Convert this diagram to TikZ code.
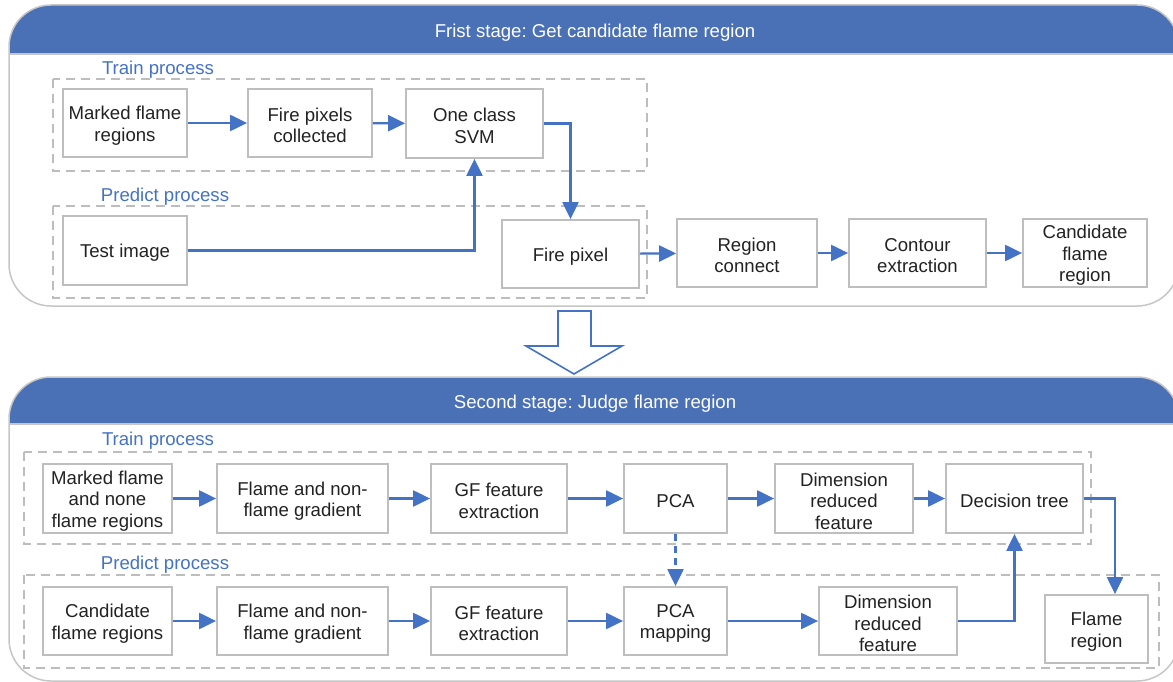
\documentclass[tikz,border=0pt]{standalone}
\usepackage{fontspec}
\setmainfont{Liberation Sans}
\frenchspacing
\usetikzlibrary{arrows.meta}

\definecolor{headblue}{HTML}{4A70B6}
\definecolor{flowblue}{HTML}{4472C4}
\definecolor{panelgray}{HTML}{C6C6C6}
\definecolor{boxgray}{HTML}{BEBEBE}
\definecolor{dashgray}{HTML}{BDBDBD}
\definecolor{inktext}{HTML}{222222}

\tikzset{
  stagepanel/.style={draw=panelgray, line width=1.5pt, rounded corners=42pt},
  stagehead/.style={fill=headblue},
  stagetitle/.style={text=white, font=\fontsize{18.6}{22}\selectfont},
  % box frame; its caption is a centred label set slightly low
  stepbox/.style={draw=boxgray, line width=1.8pt, fill=white, inner sep=0pt},
  steptext/.style={align=center, inner sep=0pt, yshift=-2.5pt, text=inktext,
    font=\fontsize{18.6}{21.5}\selectfont},
  groupframe/.style={draw=dashgray, line width=1.3pt, dash pattern=on 9pt off 6pt},
  grouplabel/.style={text=flowblue, font=\fontsize{18.6}{22}\selectfont},
  flow/.style={draw=flowblue, line width=2.2pt,
    -{Triangle[length=17pt,width=16pt]}},
  bigarrow/.style={draw=flowblue, line width=1.6pt, fill=white, line join=miter},
}

\begin{document}
\begin{tikzpicture}[x=1pt,y=-1pt]
\useasboundingbox (0,0) rectangle (1173,682);
\clip (0,0) rectangle (1173,682);

% ---------- First stage panel ----------
\begin{scope}
  \clip[rounded corners=42pt] (9,5) rectangle (1179,306);
  \fill[stagehead] (9,5) rectangle (1179,54);
\end{scope}
\draw[stagepanel] (9,5) rectangle (1179,306);
\draw[draw=panelgray, line width=1.2pt] (9,54) -- (1179,54);
\node[stagetitle] (title1) at (595,32.5) {Frist stage: Get candidate flame region};

\draw[groupframe] (53,79) rectangle (647,171);
\draw[groupframe] (53,206) rectangle (647,298);
\node[grouplabel] (train1) at (158,69.5) {Train process};
\node[grouplabel] (pred1) at (165,196.5) {Predict process};

\node[stepbox, minimum width=124pt, minimum height=68pt,
  label={[steptext]center:{Marked flame\\regions}}] (m1) at (125,123) {};
\node[stepbox, minimum width=124pt, minimum height=68pt,
  label={[steptext]center:{Fire pixels\\collected}}] (f1) at (310,123) {};
\node[stepbox, minimum width=137pt, minimum height=69pt,
  label={[steptext]center:{One class\\SVM}}] (s1) at (474.5,123.5) {};
\node[stepbox, minimum width=124pt, minimum height=69pt,
  label={[steptext]center:{Test image}}] (t1) at (125,250.5) {};
\node[stepbox, minimum width=137pt, minimum height=68pt,
  label={[steptext]center:{Fire pixel}}] (fp) at (570.5,254) {};
\node[stepbox, minimum width=140pt, minimum height=68pt,
  label={[steptext]center:{Region\\connect}}] (rc) at (747,253) {};
\node[stepbox, minimum width=137pt, minimum height=68pt,
  label={[steptext]center:{Contour\\extraction}}] (ce) at (917.5,253) {};
\node[stepbox, minimum width=124pt, minimum height=68pt,
  label={[steptext]center:{Candidate\\flame\\region}}] (cf) at (1085,253) {};

\draw[flow] (m1) -- (f1);
\draw[flow] (f1) -- (s1);
\draw[flow] (t1.east) -| (s1.south);
\draw[flow] (s1.east) -| (fp.north);
\draw[flow] (fp) -- (rc);
\draw[flow] (rc) -- (ce);
\draw[flow] (ce) -- (cf);

% ---------- Hand-over arrow between stages ----------
\draw[bigarrow] (558,311) -- (591,311) -- (591,346) -- (622,346) -- (574,374)
  -- (526,346) -- (558,346) -- cycle;

% ---------- Second stage panel ----------
\begin{scope}
  \clip[rounded corners=42pt] (9,377) rectangle (1179,681);
  \fill[stagehead] (9,377) rectangle (1179,424);
\end{scope}
\draw[stagepanel] (9,377) rectangle (1179,681);
\draw[draw=panelgray, line width=1.2pt] (9,424) -- (1179,424);
\node[stagetitle] (title2) at (595,403.5) {Second stage: Judge flame region};

\draw[groupframe] (24,452) rectangle (1091,544);
\draw[groupframe] (24,575) rectangle (1159,668);
\node[grouplabel] (train2) at (158,440.5) {Train process};
\node[grouplabel] (pred2) at (165,564.5) {Predict process};

\node[stepbox, minimum width=129pt, minimum height=69pt,
  label={[steptext]center:{Marked flame\\and none\\flame regions}}] (a1) at (107.5,498.5) {};
\node[stepbox, minimum width=171pt, minimum height=69pt,
  label={[steptext]center:{Flame and non-\\flame gradient}}] (a2) at (302.5,498.5) {};
\node[stepbox, minimum width=136pt, minimum height=69pt,
  label={[steptext]center:{GF feature\\extraction}}] (a3) at (499,498.5) {};
\node[stepbox, minimum width=103pt, minimum height=69pt,
  label={[steptext]center:{PCA}}] (a4) at (675.5,498.5) {};
\node[stepbox, minimum width=138pt, minimum height=69pt,
  label={[steptext]center:{Dimension\\reduced\\feature}}] (a5) at (844,498.5) {};
\node[stepbox, minimum width=137pt, minimum height=69pt,
  label={[steptext]center:{Decision tree}}] (a6) at (1014.5,498.5) {};

\node[stepbox, minimum width=129pt, minimum height=68pt,
  label={[steptext]center:{Candidate\\flame regions}}] (b1) at (107.5,621) {};
\node[stepbox, minimum width=171pt, minimum height=68pt,
  label={[steptext]center:{Flame and non-\\flame gradient}}] (b2) at (302.5,621) {};
\node[stepbox, minimum width=136pt, minimum height=68pt,
  label={[steptext]center:{GF feature\\extraction}}] (b3) at (499,621) {};
\node[stepbox, minimum width=103pt, minimum height=68pt,
  label={[steptext]center:{PCA\\mapping}}] (b4) at (675.5,621) {};
\node[stepbox, minimum width=138pt, minimum height=68pt,
  label={[steptext]center:{Dimension\\reduced\\feature}}] (b5) at (888,621) {};
\node[stepbox, minimum width=103pt, minimum height=68pt,
  label={[steptext]center:{Flame\\region}}] (b6) at (1096.5,629) {};

\draw[flow] (a1) -- (a2);
\draw[flow] (a2) -- (a3);
\draw[flow] (a3) -- (a4);
\draw[flow] (a4) -- (a5);
\draw[flow] (a5) -- (a6);
\draw[flow, dash pattern=on 7pt off 5pt] (a4) -- (b4);
\draw[flow] (b1) -- (b2);
\draw[flow] (b2) -- (b3);
\draw[flow] (b3) -- (b4);
\draw[flow] (b4) -- (b5);
\draw[flow] (b5.east) -| (a6.south);
\draw[flow] (a6.east) -| ([xshift=18.5pt]b6.north);
\end{tikzpicture}
\end{document}
